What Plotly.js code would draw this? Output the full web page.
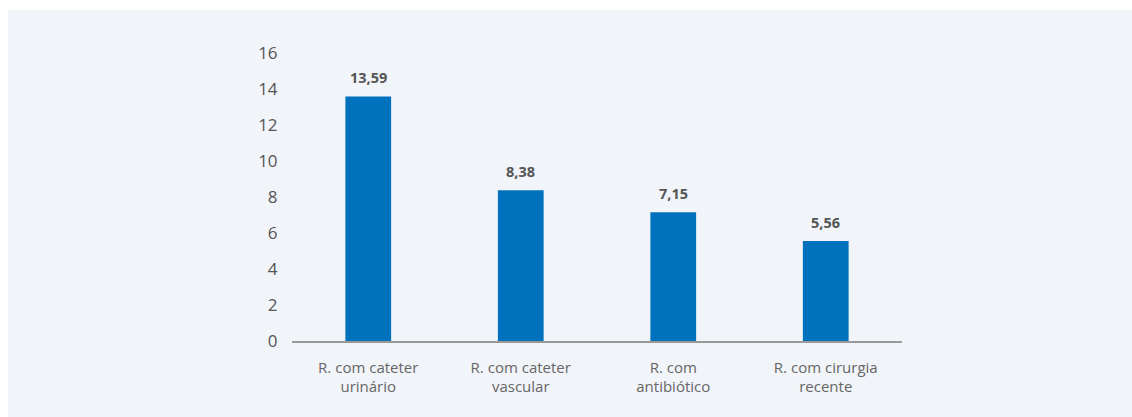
<!DOCTYPE html>
<html>
<head>
<meta charset="utf-8">
<script src="https://cdn.plot.ly/plotly-3.0.1.min.js"></script>
<style>
html,body{margin:0;padding:0;background:#ffffff;}
#chart{position:absolute;left:8px;top:10px;width:1124px;height:407px;}
</style>
</head>
<body>
<div id="chart"></div>
<script>
const categories = ["R. com cateter<br>urinário", "R. com cateter<br>vascular", "R. com<br>antibiótico", "R. com cirurgia<br>recente"];
const values = [13.59, 8.38, 7.15, 5.56];
const valueLabels = ["13,59", "8,38", "7,15", "5,56"];
const yTicks = [0, 2, 4, 6, 8, 10, 12, 14, 16];

const trace = {
  type: 'bar',
  x: categories,
  y: values,
  marker: {color: '#0071bc'},
  hoverinfo: 'none'
};

const annotations = categories.map((c, i) => ({
  x: c,
  y: values[i],
  xref: 'x',
  yref: 'y',
  text: '<b>' + valueLabels[i] + '</b>',
  showarrow: false,
  yanchor: 'bottom',
  yshift: 7,
  font: {family: 'Open Sans', size: 14.5, color: '#555555'}
}));

const layout = {
  width: 1124,
  height: 407,
  margin: {l: 284, r: 230, t: 43, b: 76},
  paper_bgcolor: '#f1f4f9',
  plot_bgcolor: '#f1f4f9',
  bargap: 0.7,
  showlegend: false,
  font: {family: 'Open Sans', color: '#555555'},
  annotations: annotations,
  xaxis: {
    type: 'category',
    showline: true,
    linecolor: '#999999',
    linewidth: 1.5,
    showgrid: false,
    ticks: 'outside',
    ticklen: 12,
    tickcolor: 'rgba(0,0,0,0)',
    tickfont: {family: 'Open Sans', size: 15, color: '#666666'},
    fixedrange: true
  },
  yaxis: {
    range: [0, 16],
    tickvals: yTicks,
    ticktext: yTicks.map(String),
    showgrid: false,
    zeroline: false,
    showline: false,
    ticks: 'outside',
    ticklen: 10,
    tickcolor: 'rgba(0,0,0,0)',
    tickfont: {family: 'Open Sans', size: 17, color: '#555555'},
    fixedrange: true
  }
};

Plotly.newPlot('chart', [trace], layout, {displayModeBar: false, staticPlot: true});
</script>
</body>
</html>
